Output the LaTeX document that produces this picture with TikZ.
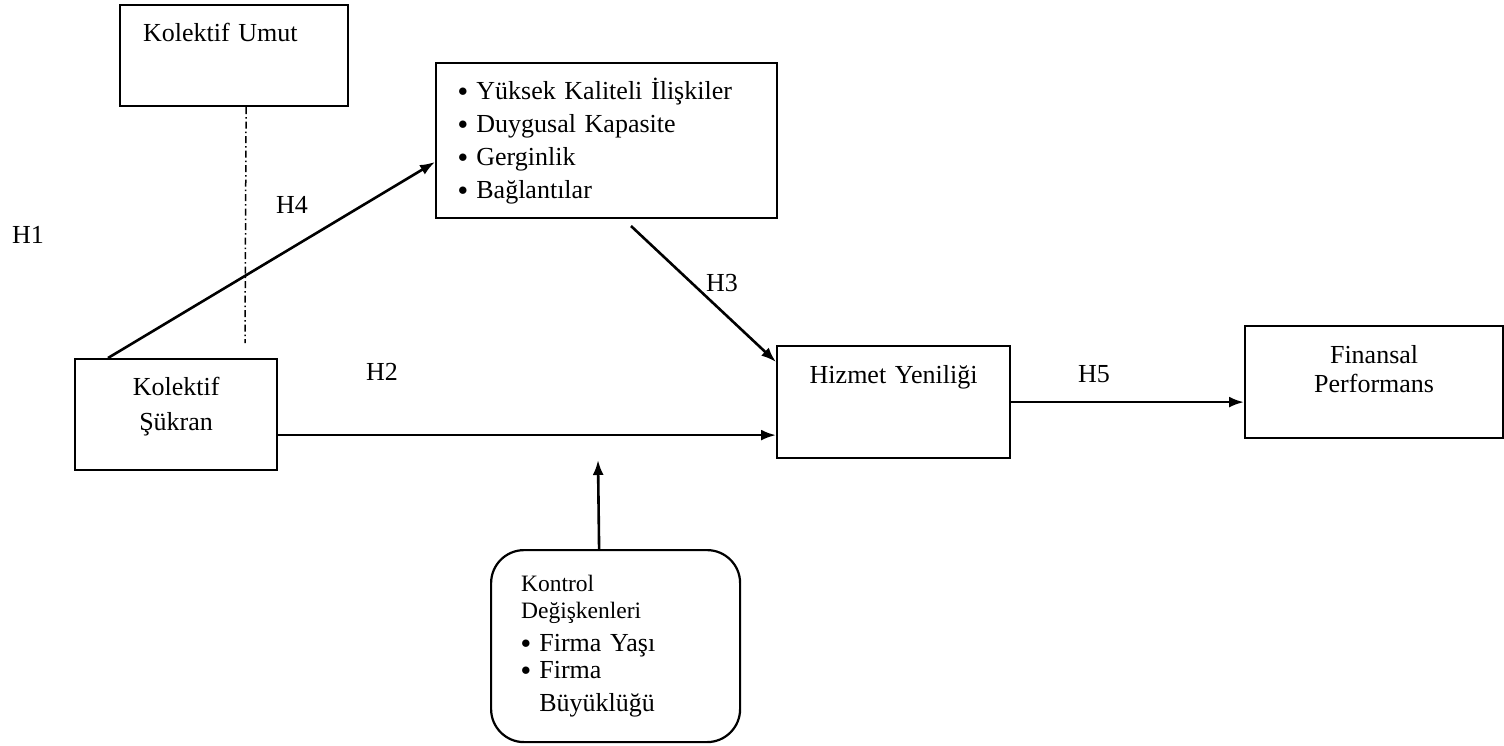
\documentclass[tikz,border=0pt]{standalone}
\usepackage{fontspec}
\usepackage{graphicx}
\setmainfont{Liberation Serif}
\usetikzlibrary{arrows.meta,positioning}
\newcommand{\px}{0.5pt}
\newcommand{\ctrlfont}{\fontsize{11.75}{13.5}\selectfont}
\newcommand{\blt}{\raisebox{0.09em}{\scalebox{0.8}{$\bullet$}}}
\tikzstyle{box}=[draw, line width=1.1pt, inner sep=0pt, anchor=north west]
\tikzstyle{hyp}=[inner sep=0pt]
\tikzstyle{arrow}=[-{Latex[length=7.5pt,width=5.5pt]}, line width=1.3pt]
\tikzstyle{moderator}=[line width=0.75pt, dash pattern=on 3.5pt off 1.5pt on 0.75pt off 1.5pt]

\begin{document}
\begin{tikzpicture}[x=\px, y=-\px, font=\fontsize{13}{16.5}\selectfont]
  \useasboundingbox (0,0) rectangle (1504,745);

  \node[box, inner xsep=23*\px, text width=182*\px, align=left,
        text height=36*\px, text depth=65*\px] (umut) at (119,4) {Kolektif Umut};
  \node[box, text width=202*\px, align=center,
        text height=36*\px, text depth=75*\px] (sukran) at (74,358) {Kolektif\\[1pt]Şükran};
  \node[box, inner xsep=22*\px, text width=297*\px, align=left,
        text height=36*\px, text depth=119*\px] (rel) at (435,62)
        {\blt\ Yüksek Kaliteli İlişkiler\\
         \blt\ Duygusal Kapasite\\
         \blt\ Gerginlik\\
         \blt\ Bağlantılar};
  \node[box, text width=233*\px, align=center,
        text height=37*\px, text depth=75*\px] (hizmet) at (776,345) {Hizmet Yeniliği};
  \node[box, text width=258*\px, align=center,
        text height=37*\px, text depth=75*\px] (finans) at (1244,325) {Finansal\\[-2pt]Performans};
  \node[box, rounded corners=16.5pt, inner xsep=30*\px, text width=189*\px, align=left,
        text height=41*\px, text depth=151*\px, font=\fontsize{13}{13.5}\selectfont] (kontrol) at (490,549)
        {{\ctrlfont Kontrol\\ Değişkenleri}\\[3pt]
         \blt\ Firma Yaşı\\
         \blt\ Firma\\[3pt]
         \phantom{\blt\ }Büyüklüğü};

  % hypothesis labels
  \node[hyp] (h1) at (28,235) {H1};
  \node[hyp] (h2) at (382,372) {H2};
  \node[hyp] (h3) at (722,283) {H3};
  \node[hyp] (h4) at (292,205) {H4};
  \node[hyp] (h5) at (1094,374) {H5};

  \coordinate (umutend) at (245,343);
  \coordinate (h3start) at (631,226);
  \coordinate (ctrltip) at (598,460);
  \coordinate (h2start) at ([yshift=-20.5*\px]sukran.east);

  \draw[moderator] ([xshift=12*\px]umut.south) -- (umutend);

  \draw[arrow] ([xshift=34*\px]sukran.north west) -- ([yshift=-100*\px]rel.north west);
  \draw[arrow] (h3start) -- ([yshift=-17*\px]hizmet.north west);
  \draw[arrow] (h2start) -- (hizmet.west |- h2start);
  \draw[arrow] (hizmet.east) -- (hizmet.east -| finans.west);
  \draw[arrow] ([xshift=-16.5*\px]kontrol.north) -- (ctrltip);
\end{tikzpicture}
\end{document}
